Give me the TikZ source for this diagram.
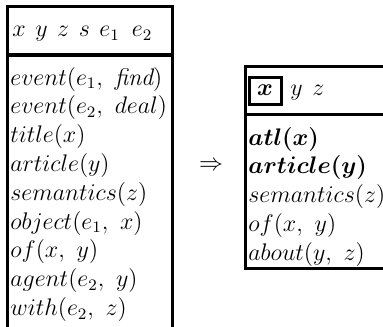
\documentclass[tikz,border=0pt]{standalone}
\usepackage{amsmath,amssymb}
\usetikzlibrary{positioning}

\begin{document}
\begin{tikzpicture}[
  x=0.5pt, y=-0.5pt,
  every node/.style={font=\fontsize{12}{14}\selectfont},
  drsline/.style={line width=1.5pt},
  cond/.style={inner sep=0pt, text height=9.5pt, text depth=4.5pt},
  refmark/.style={draw, line width=1.5pt, inner sep=0pt,
    minimum width=16pt, minimum height=13.5pt},
]
\useasboundingbox (0,0) rectangle (383,326);
\clip (0,0) rectangle (383,326);

% Left DRS
\coordinate (ltl) at (7,7);
\coordinate (ltr) at (172,7);
\draw[drsline] (7,345) -- (ltl) -- (ltr) -- (172,345);
\draw[drsline] (7,55) -- (172,55);
\node[cond, anchor=base west] (lhead) at (12,37)
  {$x\hspace{0.4em}y\hspace{0.4em}z\hspace{0.4em}s\hspace{0.4em}e_1\hspace{0.5em}e_2$};
\node[cond, anchor=base west] (c1) at (10,85) {$event(e_1,\ \textit{find})$};
\node[cond, below right=0pt and 0pt of c1.south west] (c2) {$event(e_2,\ deal)$};
\node[cond, below right=0pt and 0pt of c2.south west] (c3) {$title(x)$};
\node[cond, below right=0pt and 0pt of c3.south west] (c4) {$article(y)$};
\node[cond, below right=0pt and 0pt of c4.south west] (c5) {$semantics(z)$};
\node[cond, below right=0pt and 0pt of c5.south west] (c6) {$object(e_1,\ x)$};
\node[cond, below right=0pt and 0pt of c6.south west] (c7) {$of(x,\ y)$};
\node[cond, below right=0pt and 0pt of c7.south west] (c8) {$agent(e_2,\ y)$};
\node[cond, below right=0pt and 0pt of c8.south west] (c9) {$with(e_2,\ z)$};

% Arrow
\node (imp) at (211,166) {$\Rightarrow$};

% Right DRS
\coordinate (rtl) at (245,66);
\coordinate (rbl) at (245,268);
\draw[drsline] (395,66) -- (rtl) -- (rbl) -- (395,268);
\draw[drsline] (245,114) -- (395,114);
\node[refmark] (rx) at (265,90.5) {$\boldsymbol{x}$};
\node[cond, anchor=base west] (rhead) at (290,95) {$y\hspace{0.4em}z$};
\node[cond, anchor=base west] (d1) at (248,145) {$\boldsymbol{atl(x)}$};
\node[cond, below right=0pt and 0pt of d1.south west] (d2) {$\boldsymbol{article(y)}$};
\node[cond, below right=0pt and 0pt of d2.south west] (d3) {$semantics(z)$};
\node[cond, below right=0pt and 0pt of d3.south west] (d4) {$of(x,\ y)$};
\node[cond, below right=0pt and 0pt of d4.south west] (d5) {$about(y,\ z)$};
\end{tikzpicture}
\end{document}
